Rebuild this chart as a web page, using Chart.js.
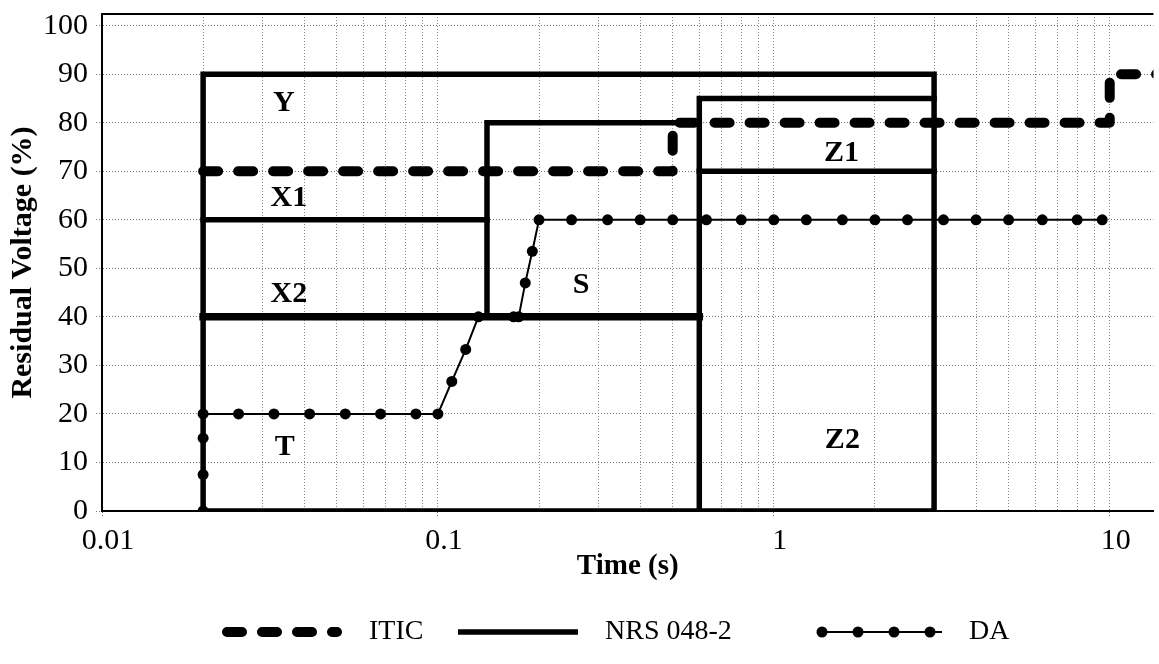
<!DOCTYPE html>
<html>
<head>
<meta charset="utf-8">
<title>Residual voltage vs time</title>
<script src="https://cdn.jsdelivr.net/npm/chart.js@4.4.1/dist/chart.umd.min.js"></script>
<style>
    html, body { margin: 0; padding: 0; background: #fff; }
</style>
</head>
<body>
<canvas id="myChart" width="1159" height="664"></canvas>
<script>
// ITIC curve
const iticTime = [0.02, 0.5, 0.5, 10, 10, 100];
const iticVolt = [70, 70, 80, 80, 90, 90];

// NRS 048-2 zone borders, null = pen up
const nrsTime = [0.02, 0.02, 3, 3, 0.02, null, 0.02, 0.14, null, 0.02, 0.6, null, 0.14, 0.14, 0.6, null, 0.6, 0.6, 3, null, 0.6, 3];
const nrsVolt = [0, 90, 90, 0, 0, null, 60, 60, null, 40, 40, null, 40, 80, 80, null, 0, 85, 85, null, 70, 70];

// DA curve
const daTime = [0.02, 0.02, 0.02, 0.02, 0.0255, 0.0325, 0.0415, 0.053, 0.0675, 0.086, 0.1, 0.11, 0.121, 0.132, 0.168, 0.174, 0.182, 0.191,
    0.2, 0.25, 0.32, 0.4, 0.5, 0.63, 0.8, 1, 1.25, 1.6, 2, 2.5, 3.2, 4, 5, 6.3, 8, 9.5];
const daVolt = [0, 7.5, 15, 20, 20, 20, 20, 20, 20, 20, 20, 26.7, 33.3, 40, 40, 40, 47, 53.5,
    60, 60, 60, 60, 60, 60, 60, 60, 60, 60, 60, 60, 60, 60, 60, 60, 60, 60];

// zone names and where they sit
const zoneNames = ['Y', 'X1', 'X2', 'T', 'S', 'Z1', 'Z2'];
const zoneTime = [0.0348, 0.036, 0.036, 0.035, 0.267, 1.59, 1.6];
const zoneVolt = [84, 64.5, 44.7, 13.2, 46.6, 73.8, 14.6];

// axis ticks
const timeTickLabels = [0.01, 0.1, 1, 10];
const voltTicks = [0, 10, 20, 30, 40, 50, 60, 70, 80, 90, 100];

const serif = "'Liberation Serif', 'Times New Roman', serif";
Chart.defaults.font.family = serif;
Chart.defaults.font.size = 30;
Chart.defaults.color = '#000';

function pts(xs, ys) {
    return xs.map((x, i) => ({ x: x, y: ys[i] }));
}

function isMajor(v) {
    return timeTickLabels.some(t => Math.abs(t - v) / t < 1e-6);
}

// 1..9 in every decade
const timeGrid = [];
[-2, -1, 0].forEach(e => {
    for (let k = 1; k <= 9; k++) timeGrid.push(Number((k * Math.pow(10, e)).toPrecision(3)));
});
timeGrid.push(10);

// legend layout
const legendX = [222, 458, 822];
const legendY = 632;
const sampleW = 120;
const legendDots = [0, 36, 72, 108];

const extras = {
    id: 'extras',
    beforeDatasetsDraw(chart) {
        const c = chart.ctx, a = chart.chartArea;
        c.save();
        c.strokeStyle = '#000';
        c.lineWidth = 2;
        c.beginPath();
        c.moveTo(a.left, a.top);
        c.lineTo(a.right, a.top);
        c.stroke();
        c.restore();
    },
    afterDatasetsDraw(chart) {
        const c = chart.ctx;
        const xs = chart.scales.x, ys = chart.scales.y;
        c.save();
        c.fillStyle = '#000';
        c.font = 'bold 30px ' + serif;
        c.textAlign = 'center';
        c.textBaseline = 'middle';
        zoneNames.forEach((n, i) => {
            c.fillText(n, xs.getPixelForValue(zoneTime[i]), ys.getPixelForValue(zoneVolt[i]));
        });
        c.restore();
    },
    afterDraw(chart) {
        const c = chart.ctx;
        const ds = chart.data.datasets;
        c.save();
        ds.forEach((d, i) => {
            const x0 = legendX[i];
            const cap = d.borderCapStyle === 'round' ? 'round' : 'butt';
            const inset = cap === 'round' ? d.borderWidth / 2 : 0;
            c.strokeStyle = '#000';
            c.lineWidth = d.borderWidth;
            c.lineCap = cap;
            c.setLineDash(d.borderDash || []);
            c.beginPath();
            c.moveTo(x0 + inset, legendY);
            c.lineTo(x0 + sampleW - inset, legendY);
            c.stroke();
            c.setLineDash([]);
            if (d.pointRadius) {
                c.fillStyle = '#000';
                legendDots.forEach(o => {
                    c.beginPath();
                    c.arc(x0 + o, legendY, d.pointRadius, 0, Math.PI * 2);
                    c.fill();
                });
            }
            c.fillStyle = '#000';
            c.font = '28px ' + serif;
            c.textAlign = 'left';
            c.textBaseline = 'middle';
            c.fillText(d.label, x0 + sampleW + 27, legendY);
        });
        c.restore();
    }
};

var ctx = document.getElementById('myChart').getContext('2d');
var chart = new Chart(ctx, {
    type: 'line',
    data: {
        datasets: [{
            label: 'ITIC',
            data: pts(iticTime, iticVolt),
            borderColor: '#000',
            borderWidth: 10,
            borderDash: [15, 20],
            borderCapStyle: 'round',
            borderJoinStyle: 'round',
            pointRadius: 0,
            fill: false,
            order: 1
        }, {
            label: 'NRS 048-2',
            data: pts(nrsTime, nrsVolt),
            borderColor: '#000',
            borderWidth: 5.5,
            borderCapStyle: 'square',
            borderJoinStyle: 'miter',
            pointRadius: 0,
            fill: false,
            order: 2,
            segment: {
                borderWidth: s => (s.p0.parsed.y === 40 && s.p1.parsed.y === 40) ? 7.5 : undefined
            }
        }, {
            label: 'DA',
            data: pts(daTime, daVolt),
            borderColor: '#000',
            backgroundColor: '#000',
            borderWidth: 2,
            pointRadius: 5.5,
            pointBorderWidth: 0,
            pointBackgroundColor: '#000',
            fill: false,
            order: 0
        }]
    },
    options: {
        responsive: false,
        animation: false,
        devicePixelRatio: 1,
        layout: { padding: { top: 14, right: 0, bottom: 0, left: 0 } },
        plugins: {
            legend: { display: false },
            tooltip: { enabled: false }
        },
        scales: {
            x: {
                type: 'logarithmic',
                min: 0.01,
                max: 13.5,
                afterBuildTicks: s => {
                    s.ticks = timeGrid.map(v => ({ value: v, major: isMajor(v) }));
                },
                afterFit: s => {
                    s.height = 153;
                    s.paddingLeft = 0;
                    s.paddingRight = 0;
                },
                ticks: {
                    autoSkip: false,
                    maxRotation: 0,
                    padding: 6,
                    labelOffset: 6,
                    callback: v => isMajor(v) ? String(v) : ''
                },
                grid: {
                    color: '#888',
                    lineWidth: 1,
                    tickLength: 6,
                    tickColor: c => (c.tick && c.tick.major) ? '#777' : 'rgba(0,0,0,0)',
                    tickBorderDash: [1, 2]
                },
                border: { display: true, color: '#000', width: 2, dash: [1, 2] },
                title: {
                    display: true,
                    text: 'Time (s)',
                    font: { size: 29, weight: 'bold' },
                    padding: { top: 0, bottom: 80 }
                }
            },
            y: {
                min: 0,
                max: 102.4,
                afterBuildTicks: s => {
                    s.ticks = voltTicks.map(v => ({ value: v }));
                },
                afterFit: s => {
                    s.width = 102;
                    s.paddingTop = 0;
                    s.paddingBottom = 0;
                },
                ticks: { padding: 8 },
                grid: {
                    color: '#777',
                    lineWidth: 1,
                    tickLength: 6,
                    tickColor: '#777',
                    tickBorderDash: [1, 2]
                },
                border: { display: true, color: '#000', width: 2, dash: [1, 2] },
                title: {
                    display: true,
                    text: 'Residual Voltage (%)',
                    font: { size: 30, weight: 'bold' },
                    padding: { top: 5, bottom: 0 }
                }
            }
        }
    },
    plugins: [extras]
});
</script>
</body>
</html>
